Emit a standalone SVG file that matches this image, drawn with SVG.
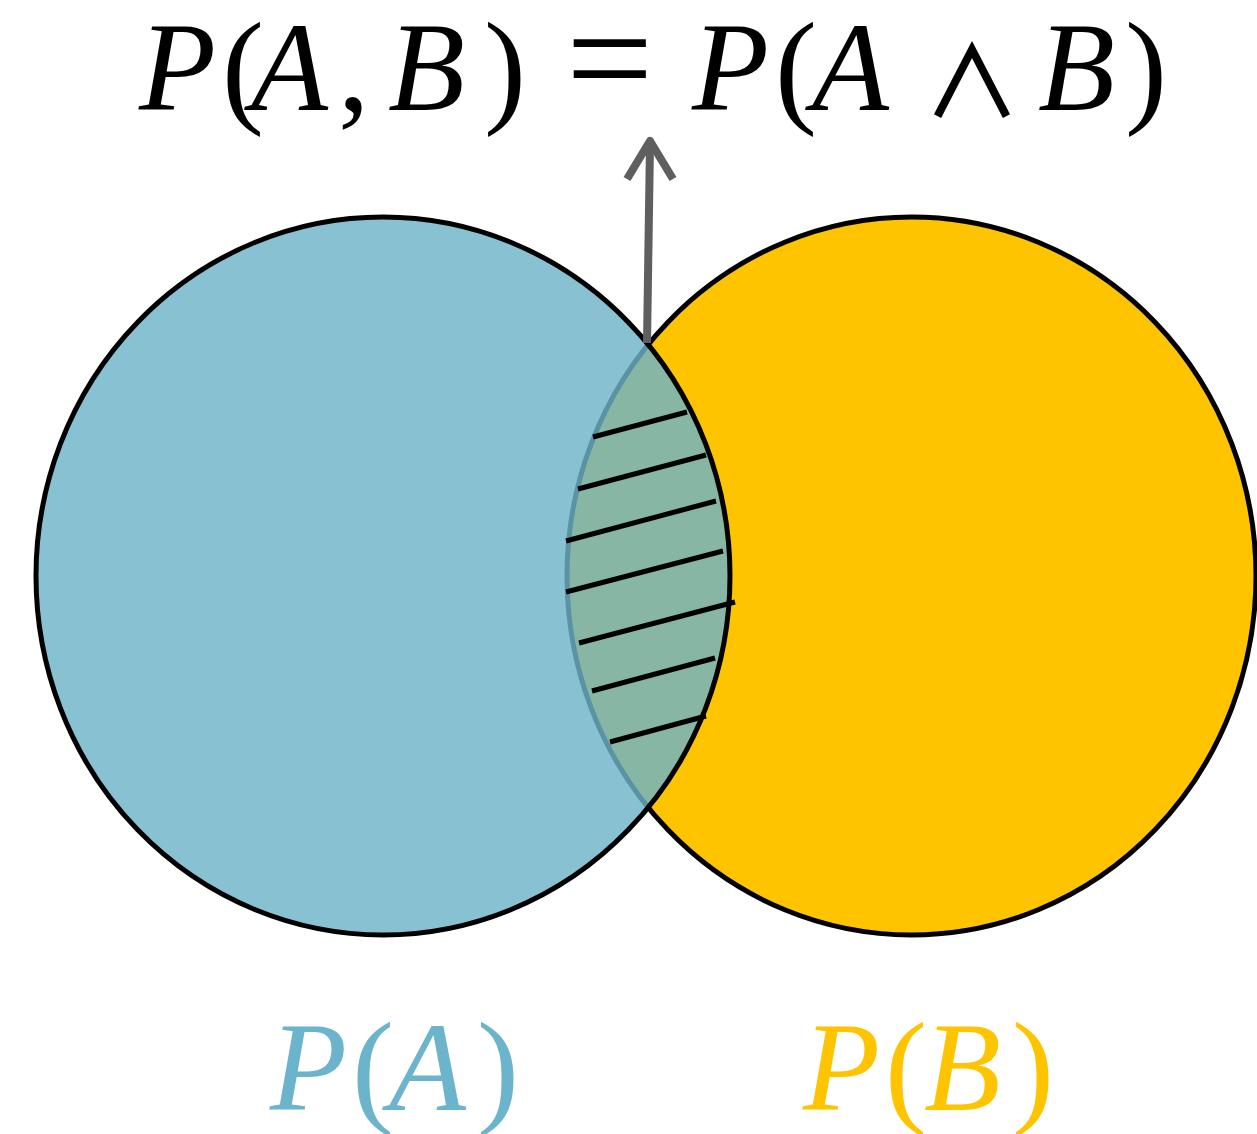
<svg xmlns="http://www.w3.org/2000/svg" width="1257" height="1134" viewBox="0 0 1257 1134">
<style>
text{font-family:'Liberation Serif','Times New Roman',serif;font-size:126px}
.i{font-style:italic}
.op{font-family:'Noto Sans CJK JP','DejaVu Sans',sans-serif;font-weight:500;font-size:98px}
.hatch{stroke:#000;stroke-width:5;fill:none}
</style>
<rect width="1257" height="1134" fill="#fff"/>
<g id="setB">
<ellipse cx="911.5" cy="576" rx="344.5" ry="359" fill="#FFC400" stroke="#000" stroke-width="5"/>
</g>
<g id="setA">
<ellipse cx="383" cy="576" rx="347" ry="359" fill="#6EB3C8" fill-opacity="0.82" stroke="#000" stroke-width="5"/>
</g>
<g id="hatching">
<line class="hatch" x1="593" y1="437" x2="687" y2="412"/>
<line class="hatch" x1="578" y1="489" x2="706" y2="455"/>
<line class="hatch" x1="566" y1="541" x2="716" y2="501"/>
<line class="hatch" x1="566" y1="592" x2="723" y2="551"/>
<line class="hatch" x1="579" y1="643" x2="735" y2="602"/>
<line class="hatch" x1="592" y1="691" x2="715" y2="658"/>
<line class="hatch" x1="610" y1="742" x2="706" y2="716"/>
</g>
<g id="connectors">
<line x1="647" y1="343" x2="650" y2="144" stroke="#5F5F5F" stroke-width="8"/>
<polyline points="627,179 650,141 673,179" fill="none" stroke="#5F5F5F" stroke-width="8" stroke-linejoin="round"/>
</g>
<g id="formula" fill="#000">
<text y="110"><tspan x="139" class="i">P</tspan><tspan x="222">(</tspan><tspan x="251" class="i">A</tspan><tspan x="338">,</tspan><tspan x="388" class="i">B</tspan><tspan x="484">)</tspan><tspan x="566" style="font-size:155px">=</tspan><tspan x="692" class="i">P</tspan><tspan x="775">(</tspan><tspan x="812" class="i">A</tspan></text>
<text class="op" x="923" y="117">∧</text>
<text y="110"><tspan x="1038" class="i">B</tspan><tspan x="1125">)</tspan></text>
</g>
<g id="labelA" fill="#6CB4CC">
<text y="1110"><tspan x="270" class="i">P</tspan><tspan x="352">(</tspan><tspan x="389" class="i">A</tspan><tspan x="477">)</tspan></text>
</g>
<g id="labelB" fill="#FFC400">
<text y="1110"><tspan x="803" class="i">P</tspan><tspan x="885">(</tspan><tspan x="924" class="i">B</tspan><tspan x="1012">)</tspan></text>
</g>
</svg>
